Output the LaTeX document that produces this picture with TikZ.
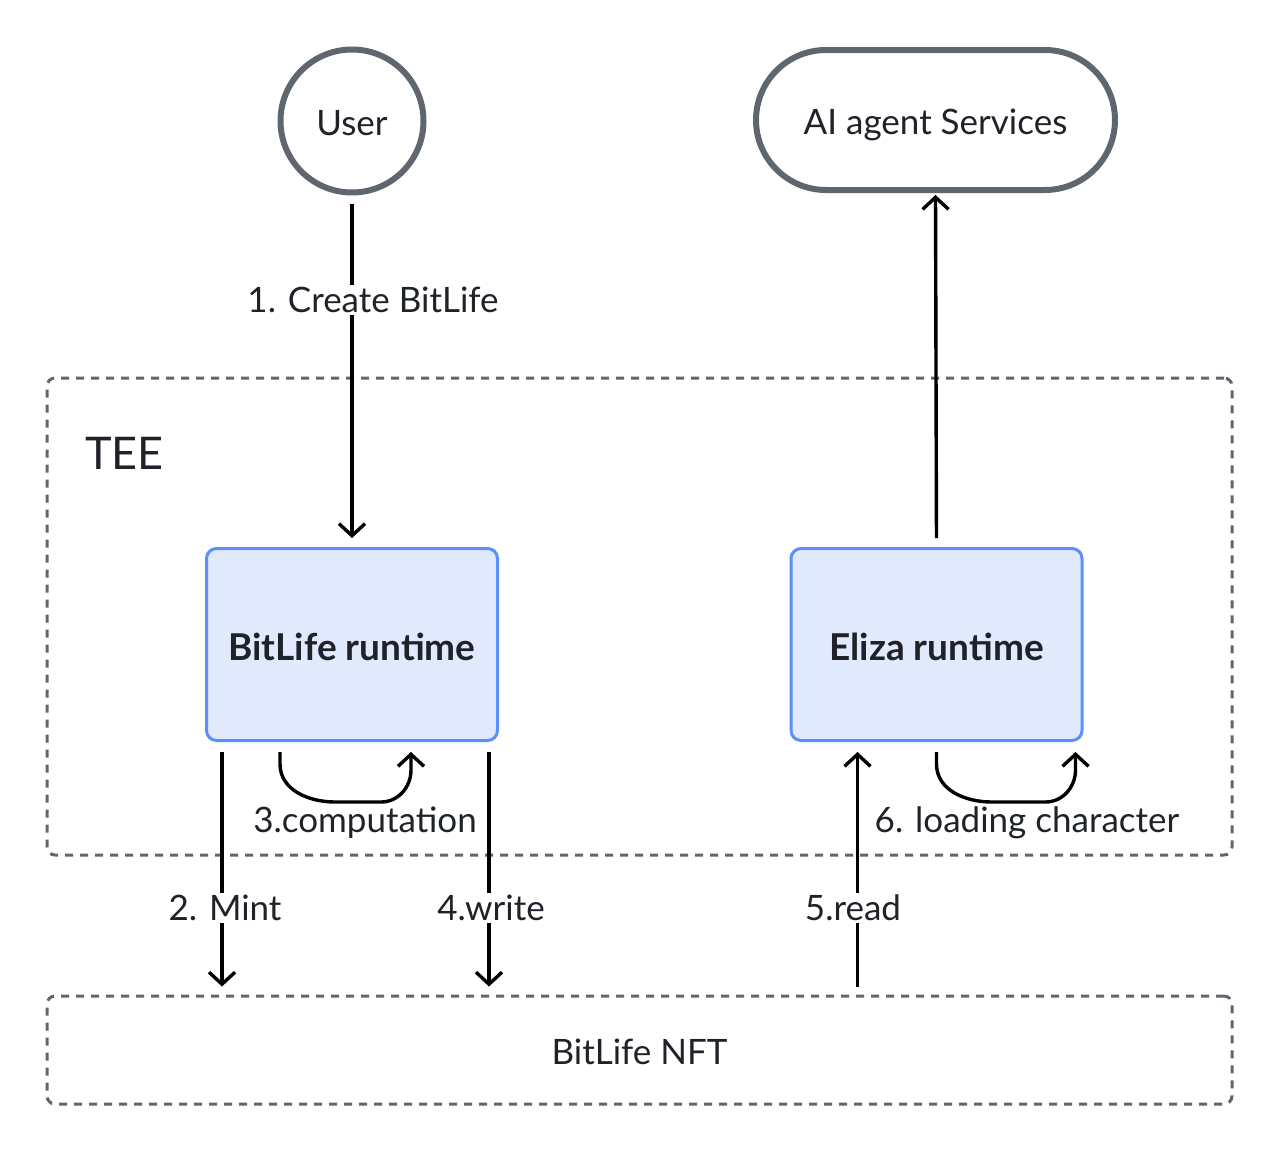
\documentclass[tikz,border=0pt]{standalone}
\usepackage{fontspec}
\setmainfont{Lato}
\usetikzlibrary{arrows.meta,calc}
\definecolor{strokegrey}{HTML}{5F6670}
\definecolor{txt}{HTML}{1F2329}
\definecolor{boxfill}{HTML}{E1E9FD}
\definecolor{boxline}{HTML}{5B8FF9}
\newcommand{\lowertext}[2]{\raisebox{-#1}[\height][\depth]{#2}}
\begin{document}
\begin{tikzpicture}[x=1pt,y=-1pt,
  every node/.style={text=txt, font=\fontsize{35}{42}\selectfont},
  actor/.style={draw=strokegrey, line width=6pt, fill=white, inner sep=0pt},
  runbox/.style={draw=boxline, fill=boxfill, line width=3pt, rounded corners=10pt,
    minimum width=291pt, minimum height=192pt, font=\fontsize{37}{44}\selectfont\bfseries},
  dashbox/.style={draw=strokegrey, line width=3pt, rounded corners=8pt,
    dash pattern=on 8pt off 7pt, minimum width=1185pt},
  arr/.style={line width=3.4pt, -{Straight Barb[length=12pt,width=26pt,line width=3.4pt]}},
  lbl/.style={fill=white, inner sep=2pt},
  tlbl/.style={inner sep=0pt}]
\useasboundingbox (0,0) rectangle (1280,1151);
% containers
\node[dashbox, minimum height=477pt] (tee) at (639.5,616.5) {};
\node[dashbox, minimum height=108pt] (nft) at (639.5,1050) {\lowertext{2pt}{BitLife NFT}};
\node[tlbl, anchor=base west, font=\fontsize{45}{54}\selectfont] (teelbl) at (85,469) {TEE};
% actors
\node[actor, circle, minimum size=143pt] (user) at (352,121) {\lowertext{2pt}{User}};
\node[actor, rounded corners=70pt, minimum width=359pt, minimum height=140pt] (ai) at (935.5,120) {\lowertext{5pt}{AI agent Services}};
% runtimes
\node[runbox] (bitlife) at (352,644.5) {\lowertext{2pt}{BitLife runtime}};
\node[runbox] (eliza) at (936.5,644.5) {\lowertext{2pt}{Eliza runtime}};
% 1. create
\draw[arr, shorten <=8pt, shorten >=9pt] (user.south) -- (bitlife.north);
\node[lbl] (l1) at (373,300) {1. Create BitLife};
% eliza -> ai
\draw[arr, shorten <=9pt, shorten >=2pt] (eliza.north) -- (ai.south);
% coordinates
\coordinate (m1) at ($(bitlife.south west)+(17,0)$);
\coordinate (m2) at (m1 |- nft.north);
\coordinate (w1) at ($(bitlife.south east)+(-10,0)$);
\coordinate (w2) at (w1 |- nft.north);
\coordinate (r1) at ($(eliza.south west)+(68,0)$);
\coordinate (r2) at (r1 |- nft.north);
% 2. mint
\draw[arr, shorten <=10pt, shorten >=8pt] (m1) -- (m2);
\node[lbl] (l2) at (225,908) {2. Mint};
% 4. write
\draw[arr, shorten <=10pt, shorten >=8pt] (w1) -- (w2);
\node[lbl] (l4) at (491,908) {4.write};
% 5. read
\draw[arr, shorten <=8pt, shorten >=10pt] (r2) -- (r1);
\node[lbl] (l5) at (853,908) {5.read};
% 3. computation loop
\coordinate (c1) at ($(bitlife.south)+(-72,10)$);
\coordinate (c2) at ($(bitlife.south)+(59,10)$);
\draw[arr] (c1) -- ++(0,12) to[out=-90,in=180] ($(c1)+(55,50)$) -- ($(c2)+(-30,50)$) to[out=0,in=-90] ($(c2)+(0,18)$) -- (c2);
\node[tlbl] (l3) at (365,823) {3.computation};
% 6. loading loop
\coordinate (e1) at ($(eliza.south)+(0,10)$);
\coordinate (e2) at ($(eliza.south)+(139,10)$);
\draw[arr] (e1) -- ++(0,12) to[out=-90,in=180] ($(e1)+(55,50)$) -- ($(e2)+(-30,50)$) to[out=0,in=-90] ($(e2)+(0,18)$) -- (e2);
\node[tlbl] (l6) at (1027,823) {6. loading character};
\end{tikzpicture}
\end{document}
